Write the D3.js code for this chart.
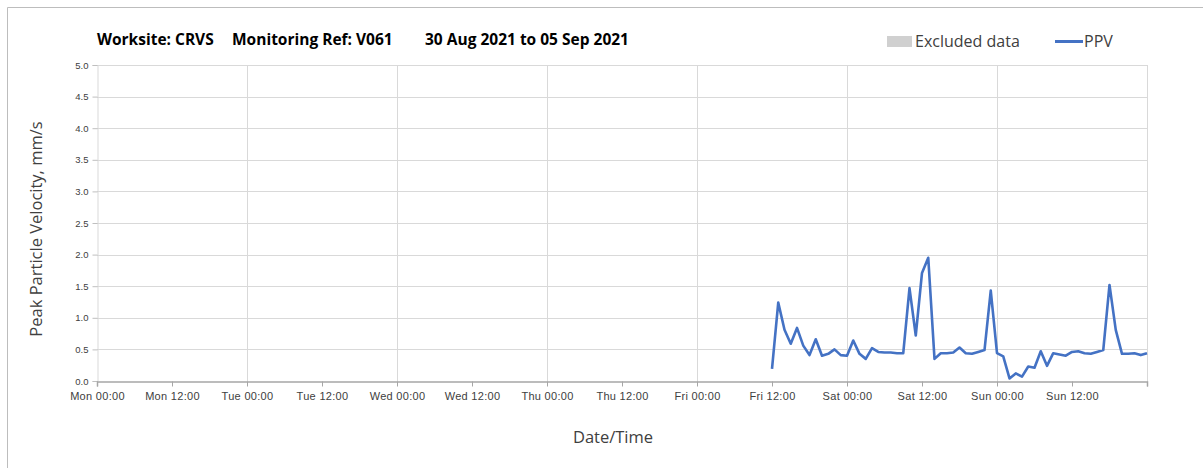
<!DOCTYPE html>
<html>
<head>
<meta charset="utf-8">
<script src="https://cdn.jsdelivr.net/npm/d3@7"></script>
<style>
  body { margin: 0; background: #fff; }
  svg { display: block; font-family: "Open Sans", Lato, sans-serif; }
</style>
</head>
<body>
<script>
//chart values
var titleParts = ["Worksite: CRVS", "Monitoring Ref: V061", "30 Aug 2021 to 05 Sep 2021"];
var tickLabels = ["Mon 00:00", "Mon 12:00", "Tue 00:00", "Tue 12:00", "Wed 00:00", "Wed 12:00",
                  "Thu 00:00", "Thu 12:00", "Fri 00:00", "Fri 12:00", "Sat 00:00", "Sat 12:00",
                  "Sun 00:00", "Sun 12:00"];
var yTicks = [0, 0.5, 1, 1.5, 2, 2.5, 3, 3.5, 4, 4.5, 5];
//hourly readings, first one at Fri 12:00 (hour 108 of the week)
var startHour = 108;
var ppv = [0.19, 1.24, 0.81, 0.59, 0.84, 0.56, 0.41, 0.66, 0.40, 0.43, 0.50, 0.41,
           0.40, 0.64, 0.43, 0.35, 0.52, 0.46, 0.45, 0.45, 0.44, 0.44, 1.47, 0.72,
           1.71, 1.95, 0.35, 0.44, 0.44, 0.45, 0.53, 0.44, 0.43, 0.46, 0.49, 1.43,
           0.44, 0.39, 0.04, 0.12, 0.07, 0.23, 0.21, 0.47, 0.24, 0.44, 0.42, 0.40,
           0.46, 0.47, 0.44, 0.43, 0.46, 0.49, 1.52, 0.81, 0.43, 0.43, 0.44, 0.41, 0.44];

(function(){

var width = 1203, height = 468;
var plotLeft = 97, plotRight = 1147, plotTop = 65, plotBottom = 381;

var svg = d3.select("body").append("svg")
    .attr("width", width)
    .attr("height", height);

//outer frame (left and top edges visible)
svg.append("path")
    .attr("d", "M7.5," + height + "V7.5H" + width)
    .attr("fill", "none")
    .attr("stroke", "#bdbdbd");

var x = d3.scaleLinear().domain([0, 168]).range([plotLeft, plotRight]);
var y = d3.scaleLinear().domain([0, 5]).range([plotBottom, plotTop]);

//gridlines
svg.append("g").selectAll("line")
    .data(yTicks.slice(1))
    .enter().append("line")
    .attr("x1", plotLeft).attr("x2", plotRight)
    .attr("y1", function(d){ return Math.round(y(d)) + 0.5; })
    .attr("y2", function(d){ return Math.round(y(d)) + 0.5; })
    .attr("stroke", "#d9d9d9");

svg.append("g").selectAll("line")
    .data(d3.range(24, 169, 24))
    .enter().append("line")
    .attr("x1", function(d){ return Math.round(x(d)) + 0.5; })
    .attr("x2", function(d){ return Math.round(x(d)) + 0.5; })
    .attr("y1", plotTop).attr("y2", plotBottom)
    .attr("stroke", "#d9d9d9");

//y axis
var yAxis = d3.axisLeft(y)
    .tickValues(yTicks)
    .tickFormat(d3.format(".1f"))
    .tickSize(5)
    .tickPadding(4);

var gy = svg.append("g")
    .attr("transform", "translate(" + (plotLeft + 0.5) + ",0)")
    .call(yAxis);
gy.select(".domain").attr("stroke", "#d9d9d9");
gy.selectAll(".tick line").attr("stroke", "#bfbfbf");
gy.selectAll("text").attr("font-size", 9.5).attr("fill", "#404040");

//x axis
var xAxis = d3.axisBottom(x)
    .tickValues(d3.range(0, 169, 12))
    .tickFormat(function(d, i){ return tickLabels[i] || ""; })
    .tickSize(5)
    .tickPadding(6);

var gx = svg.append("g")
    .attr("transform", "translate(0," + (plotBottom + 0.5) + ")")
    .call(xAxis);
gx.select(".domain").attr("stroke", "#a6a6a6").attr("stroke-width", 1.5);
gx.selectAll(".tick line").attr("stroke", "#a6a6a6");
gx.selectAll("text")
    .attr("font-size", 11)
    .attr("letter-spacing", 0.3)
    .attr("fill", "#404040");

//PPV line
var line = d3.line()
    .x(function(d, i){ return x(startHour + i); })
    .y(function(d){ return y(d); });

svg.append("path")
    .datum(ppv)
    .attr("d", line)
    .attr("fill", "none")
    .attr("stroke", "#4472c4")
    .attr("stroke-width", 2.6)
    .attr("stroke-linejoin", "round");

//title
var titleX = [97, 232, 425];
svg.append("g").selectAll("text")
    .data(titleParts)
    .enter().append("text")
    .attr("x", function(d, i){ return titleX[i]; })
    .attr("y", 45)
    .attr("font-size", 15.5)
    .attr("font-weight", "bold")
    .attr("fill", "#000")
    .text(function(d){ return d; });

//legend
svg.append("rect")
    .attr("x", 887).attr("y", 36)
    .attr("width", 25).attr("height", 11)
    .attr("fill", "#d0d0d0");
svg.append("text")
    .attr("x", 915).attr("y", 47)
    .attr("font-size", 16).attr("fill", "#404040")
    .text("Excluded data");
svg.append("line")
    .attr("x1", 1055).attr("x2", 1083)
    .attr("y1", 41.5).attr("y2", 41.5)
    .attr("stroke", "#4472c4").attr("stroke-width", 3);
svg.append("text")
    .attr("x", 1084).attr("y", 47)
    .attr("font-size", 16).attr("fill", "#404040")
    .text("PPV");

//axis titles
svg.append("text")
    .attr("x", 613).attr("y", 443)
    .attr("text-anchor", "middle")
    .attr("font-size", 16.5).attr("fill", "#404040")
    .text("Date/Time");

svg.append("text")
    .attr("transform", "translate(42,229) rotate(-90)")
    .attr("text-anchor", "middle")
    .attr("font-size", 16.5).attr("fill", "#404040")
    .text("Peak Particle Velocity, mm/s");

})();
</script>
</body>
</html>
